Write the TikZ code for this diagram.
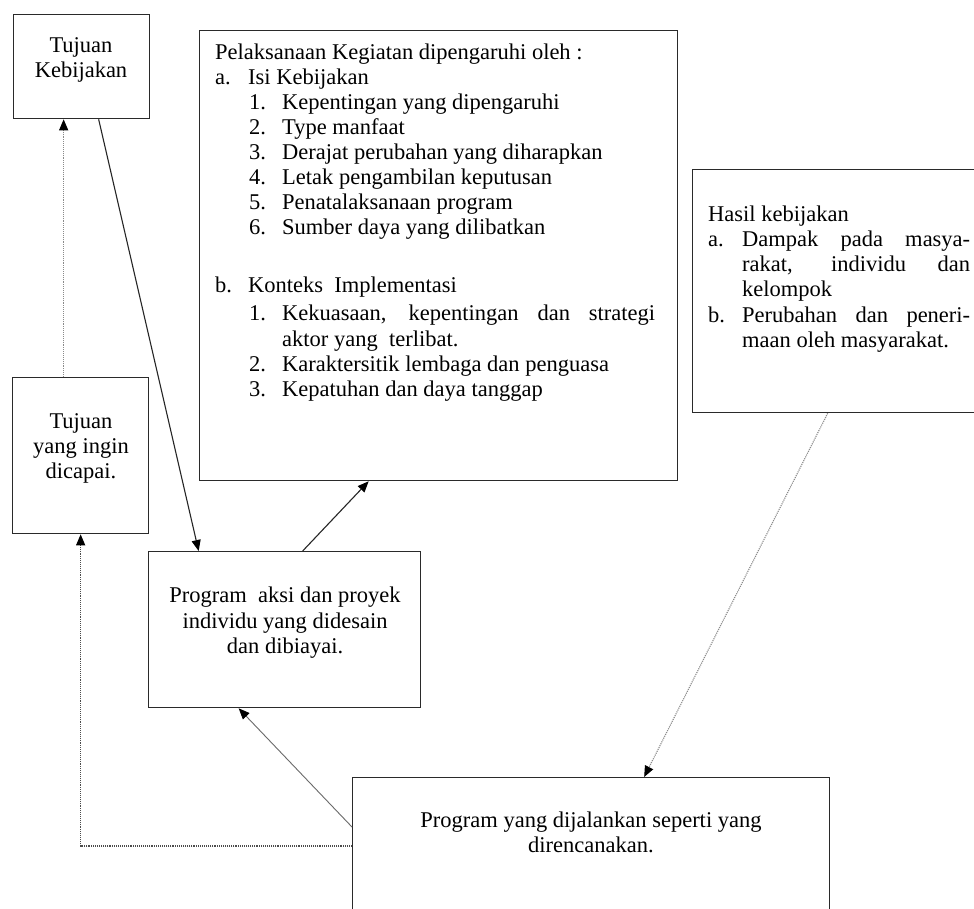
\documentclass[tikz,border=0pt]{standalone}
\usepackage{fontspec}
\setmainfont{Liberation Serif}
\usetikzlibrary{arrows.meta,calc}
\definecolor{boxline}{HTML}{2A2A2A}
\definecolor{dotgray}{HTML}{8A8A8A}
\definecolor{midgray}{HTML}{6A6A6A}
\begin{document}
\begin{tikzpicture}[x=1pt,y=-1pt,
  box/.style={draw=boxline,line width=1.3pt,fill=none,inner sep=0pt,anchor=north west},
  txt/.style={inner sep=0pt,anchor=base west,font=\fontsize{22.5}{25}\selectfont,text=black},
  ctxt/.style={inner sep=0pt,anchor=base,font=\fontsize{22.5}{25}\selectfont,text=black,align=center},
  tip/.style={-{Triangle[length=11pt,width=9pt,color=black,fill=black]}},
  solidarrow/.style={tip,draw=black!85,line width=1.1pt},
  dotarrow/.style={tip,draw=dotgray,line width=1.1pt,densely dotted},
  grayarrow/.style={tip,draw=midgray,line width=0.9pt},
  darkdot/.style={tip,draw=black!70,line width=1.1pt,densely dotted}]
\useasboundingbox (0,0) rectangle (974,909);
\clip (0,0) rectangle (974,909);
\fill[white] (0,0) rectangle (974,909);

% boxes
\node[box,minimum width=136pt,minimum height=104pt] (tk) at (13,14) {};
\node[box,minimum width=478pt,minimum height=450pt] (pk) at (199,30) {};
\node[box,minimum width=300pt,minimum height=243pt] (hk) at (692,169) {};
\node[box,minimum width=136pt,minimum height=156pt] (tyi) at (12,377) {};
\node[box,minimum width=272pt,minimum height=156pt] (pa) at (148,551) {};
\node[box,minimum width=477pt,minimum height=160pt] (pr) at (352,777) {};

% Tujuan Kebijakan
\node[ctxt] (tk1) at (81,53) {Tujuan};
\node[ctxt] (tk2) at (81,78) {Kebijakan};

% Tujuan yang ingin dicapai
\node[ctxt] (ty1) at (81,428) {Tujuan};
\node[ctxt] (ty2) at (81,453) {yang ingin};
\node[ctxt] (ty3) at (81,478) {dicapai.};

% Program aksi
\node[ctxt] (pa1) at (285,602) {Program\ \ aksi dan proyek};
\node[ctxt] (pa2) at (285,628) {individu yang didesain};
\node[ctxt] (pa3) at (285,653) {dan dibiayai.};

% Program yang dijalankan
\node[ctxt] (pr1) at (591,827) {Program yang dijalankan seperti yang};
\node[ctxt] (pr2) at (591,852) {direncanakan.};

% Pelaksanaan Kegiatan
\node[txt] (p0) at (215,60) {Pelaksanaan Kegiatan dipengaruhi oleh :};
\node[txt] (la) at (215,85) {a.};
\node[txt] (lat) at (248,85) {Isi Kebijakan};
\node[txt] (n1) at (249,110) {1.};
\node[txt] (n1t) at (282,110) {Kepentingan yang dipengaruhi};
\node[txt] (n2) at (249,135) {2.};
\node[txt] (n2t) at (282,135) {Type manfaat};
\node[txt] (n3) at (249,160) {3.};
\node[txt] (n3t) at (282,160) {Derajat perubahan yang diharapkan};
\node[txt] (n4) at (249,185) {4.};
\node[txt] (n4t) at (282,185) {Letak pengambilan keputusan};
\node[txt] (n5) at (249,210) {5.};
\node[txt] (n5t) at (282,210) {Penatalaksanaan program};
\node[txt] (n6) at (249,235) {6.};
\node[txt] (n6t) at (282,235) {Sumber daya yang dilibatkan};
\node[txt] (lb) at (215,293) {b.};
\node[txt] (lbt) at (248,293) {Konteks\ \ Implementasi};
\node[txt] (m1) at (249,320) {1.};
\node[txt] (m1t) at (282,320) {\makebox[373pt][s]{Kekuasaan, kepentingan dan strategi}};
\node[txt] (m1u) at (282,346) {aktor yang\ \ terlibat.};
\node[txt] (m2) at (249,371) {2.};
\node[txt] (m2t) at (282,371) {Karaktersitik lembaga dan penguasa};
\node[txt] (m3) at (249,396) {3.};
\node[txt] (m3t) at (282,396) {Kepatuhan dan daya tanggap};

% Hasil kebijakan
\node[txt] (h0) at (708,222) {Hasil kebijakan};
\node[txt] (ha) at (708,247) {a.};
\node[txt] (ha1) at (742,247) {\makebox[228pt][s]{Dampak pada masya-}};
\node[txt] (ha2) at (742,272) {\makebox[228pt][s]{rakat, individu dan}};
\node[txt] (ha3) at (742,297) {kelompok};
\node[txt] (hb) at (708,322) {b.};
\node[txt] (hb1) at (742,322) {\makebox[228pt][s]{Perubahan dan peneri-}};
\node[txt] (hb2) at (742,347) {maan oleh masyarakat.};

% connectors
\draw[dotarrow] ([xshift=-17pt]tyi.north) -- ([xshift=-18pt]tk.south);
\draw[solidarrow] ([xshift=17pt]tk.south) -- ([xshift=-86pt]pa.north);
\draw[solidarrow] ([xshift=18pt]pa.north) -- ([xshift=-70pt]pk.south);
\draw[dotarrow] ([xshift=-15pt]hk.south) -- ([xshift=53pt]pr.north);
\draw[grayarrow] ([yshift=-50pt]pr.north west) -- ([xshift=-46pt]pa.south);
\draw[darkdot] ([yshift=-69pt]pr.north west) -| (tyi.south);
\end{tikzpicture}
\end{document}
